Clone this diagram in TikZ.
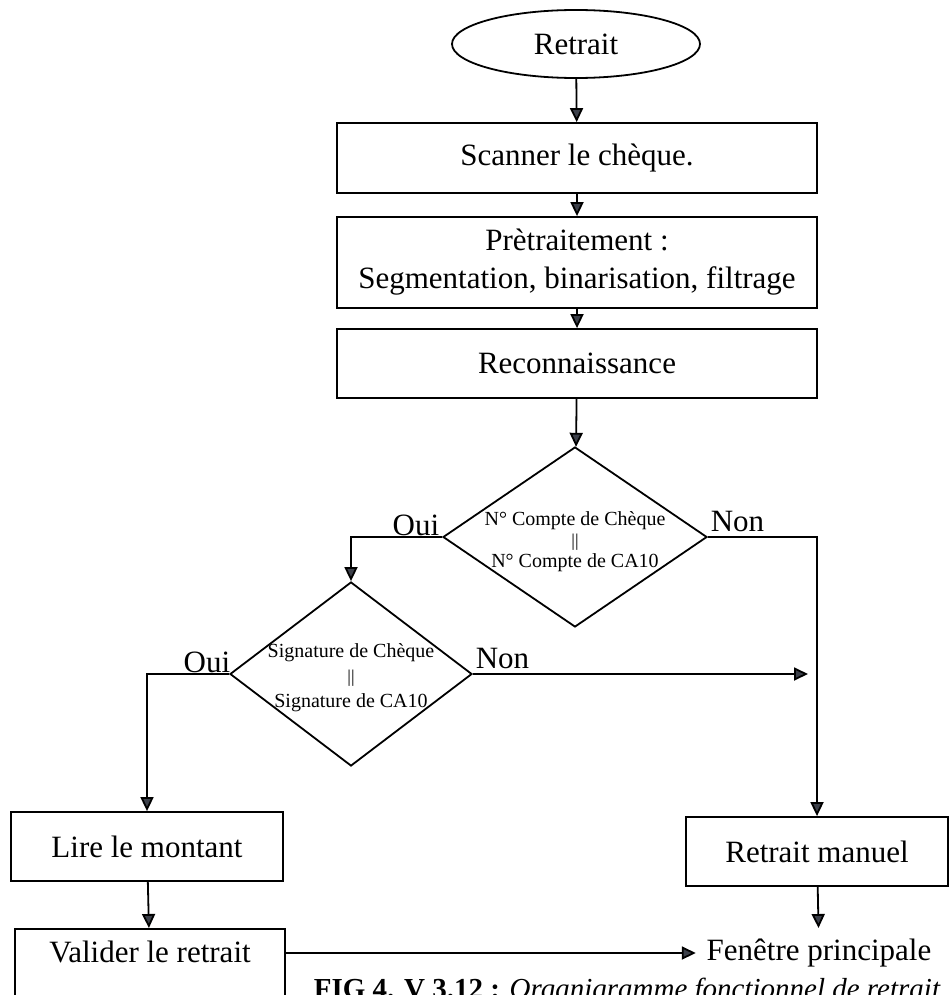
\documentclass[tikz,border=0pt]{standalone}
\usepackage{fontspec}
\setmainfont{Liberation Serif}
\usetikzlibrary{shapes.geometric, arrows.meta}
\definecolor{tipgray}{RGB}{60,64,74}
\tikzset{>={Triangle[width=6.5pt,length=7pt,fill=tipgray]},
  etape/.style={draw, rectangle, inner sep=2pt, align=center,
    font=\fontsize{15.5}{19}\selectfont},
  debut/.style={draw, ellipse, inner sep=0pt, font=\fontsize{15.5}{19}\selectfont},
  test/.style={draw, diamond, inner sep=0pt},
  testtxt/.style={inner sep=0pt, align=center, font=\fontsize{10}{10.5}\selectfont},
  rep/.style={inner sep=1pt, font=\fontsize{15.5}{19}\selectfont}
}
\newcommand{\egal}{{\fontsize{9}{9}\selectfont ||}}

\begin{document}
\begin{tikzpicture}[x=0.5pt, y=-0.5pt, line width=0.9pt]
\useasboundingbox (0,0) rectangle (949,995);

% la suite des etapes
\node[debut, minimum width=124pt, minimum height=34pt] (ret) at (576,44) {Retrait};
\node[etape, minimum width=240pt, minimum height=35pt] (scan) at (577,158) {Scanner le chèque.};
\node[etape, minimum width=240pt, minimum height=45.5pt] (pre) at (577,262.5)
  {Prètraitement :\\ Segmentation, binarisation, filtrage};
\node[etape, minimum width=240pt, minimum height=34.5pt] (reco) at (577,363.5) {Reconnaissance};

% les deux tests
\node[test, minimum width=132pt, minimum height=90pt] (cmp) at (575,537) {};
\node[testtxt, yshift=-2.5pt] at (cmp) {N° Compte de Chèque\\\egal\\N° Compte de CA10};
\node[test, minimum width=121pt, minimum height=92pt] (sig) at (351,674) {};
\node[testtxt, yshift=-2pt] at (sig) {Signature de Chèque\\[2pt]\egal\\[2pt]Signature de CA10};

\node[etape, minimum width=136pt, minimum height=34.5pt] (lire) at (147,846.5) {Lire le montant};
\node[etape, minimum width=135pt, minimum height=45pt, anchor=north,
  text height=11pt, text depth=22pt] (valid) at (150,928) {Valider le retrait};
\node[etape, minimum width=131pt, minimum height=34.5pt] (man) at (817,851.5) {Retrait manuel};
\node[rep, inner sep=5pt] (fen) at (819,953) {Fenêtre principale};
\coordinate (bout) at (808,674);

\node[anchor=base west, inner sep=0pt, font=\fontsize{14.5}{17}\selectfont] (legende) at (313,998)
  {\textbf{FIG 4. V 3.12 :} \textit{Organigramme fonctionnel de retrait}};

% fleches
\draw[->] (ret) -- (scan);
\draw[->] (scan) -- (pre);
\draw[->] (pre) -- (reco);
\draw[->] (reco) -- (cmp);
\draw[->] (cmp.west) node[rep, anchor=base east, yshift=1pt] {Oui} -| (sig.north);
\draw[->] (cmp.east) node[rep, anchor=base west, yshift=3pt] {Non} -| (man.north);
\draw[->] (sig.west) node[rep, anchor=base east, xshift=2pt, yshift=1pt] {Oui} -| (lire.north);
\draw[->] (sig.east) node[rep, anchor=base west, yshift=3pt] {Non} -- (bout);
\draw[->] (lire) -- (valid);
\draw[->] (man) -- (fen);
\draw[->] (fen.west -| valid.east) -- (fen.west);
\end{tikzpicture}
\end{document}
